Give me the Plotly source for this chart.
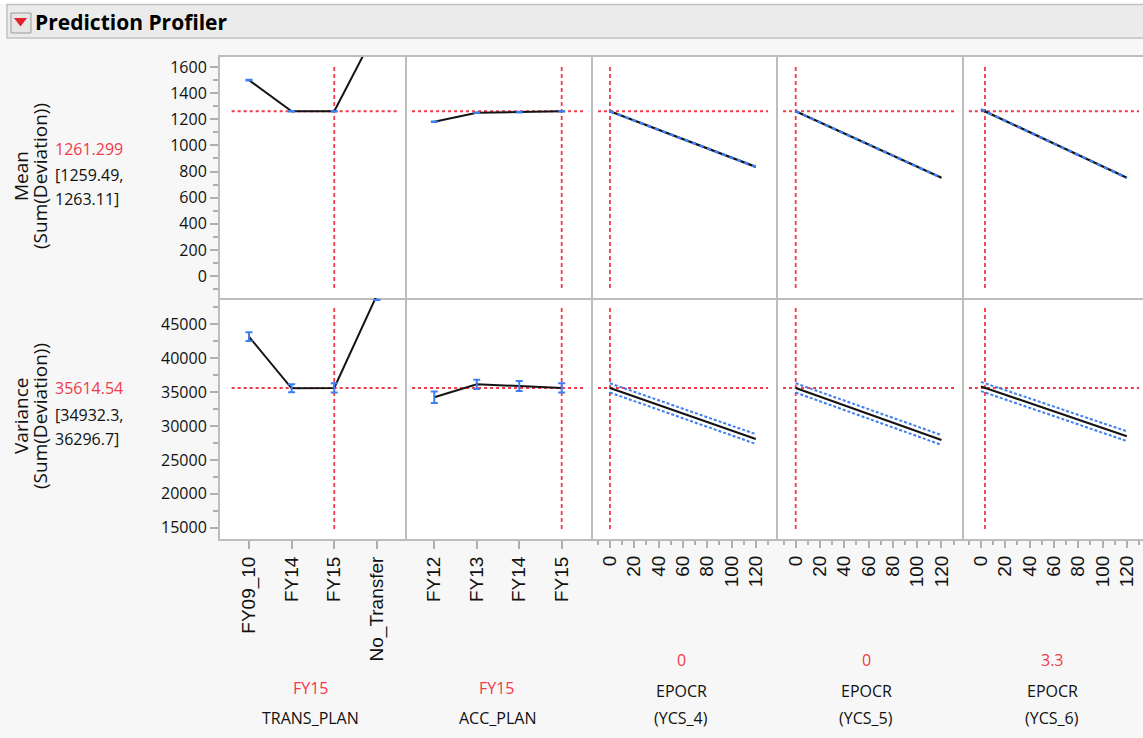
import plotly.graph_objects as go

W, H = 1143, 738

# ---------------- data ----------------
trans_cats = ["FY09_10", "FY14", "FY15", "No_Transfer"]
mean_trans = [1500, 1262, 1261.299, 1890]
mean_trans_err = [2, 2, 1.81, 2]
var_trans = [43170, 35560, 35614.54, 49300]
var_trans_err = [650, 600, 682, 700]

acc_cats = ["FY12", "FY13", "FY14", "FY15"]
mean_acc = [1181, 1250, 1255, 1261.299]
mean_acc_err = [2, 2, 2, 1.81]
var_acc = [34230, 36150, 35900, 35614.54]
var_acc_err = [850, 690, 740, 682]

epocr_x = [0, 120]
mean_ycs4 = [1261.299, 836]
mean_ycs5 = [1261.299, 752]
mean_ycs6 = [1276, 752]
var_ycs4 = [35614.54, 28080]
var_ycs5 = [35614.54, 27940]
var_ycs6 = [35820, 28500]
var_ci_half = [682, 720]
mean_ci_half = [1.81, 2.5]

current_mean = 1261.299
current_var = 35614.54
current_x = [2, 3, 0, 0, 3.3]

y_mean_ticks = [0, 200, 400, 600, 800, 1000, 1200, 1400, 1600]
y_var_ticks = [15000, 20000, 25000, 30000, 35000, 40000, 45000]
epocr_ticks = [0, 20, 40, 60, 80, 100, 120]

factor_values = ["FY15", "FY15", "0", "0", "3.3"]
factor_names = [["TRANS_PLAN"], ["ACC_PLAN"], ["EPOCR", "(YCS_4)"], ["EPOCR", "(YCS_5)"], ["EPOCR", "(YCS_6)"]]

# ---------------- style ----------------
BLACK = "#141414"
BLUE = "#3d7ef0"
RED = "#f2394a"
BORDER = "#bdbdbd"
TICKC = "#b0b0b0"
FONT = "Open Sans"
XFONT = "Liberation Sans"

col_px = [(220, 405), (405, 591), (591, 776), (776, 962), (962, 1143)]
row_px = [(57, 298), (298, 539)]
x_ranges = [[-0.68, 3.66], [-0.69, 3.69], [-15.6, 136.6], [-16.2, 136.9], [-15.6, 133.3]]
y_ranges = [[-168, 1677], [13333, 48880]]


def px(x):
    return x / W


def py(y):
    return 1 - y / H


fig = go.Figure()
layout = {}
shapes = []
annotations = []

mean_cont = [mean_ycs4, mean_ycs5, mean_ycs6]
var_cont = [var_ycs4, var_ycs5, var_ycs6]

for r in range(2):
    for c in range(5):
        idx = r * 5 + c + 1
        xn = "x" if idx == 1 else f"x{idx}"
        yn = "y" if idx == 1 else f"y{idx}"
        xk = "xaxis" if idx == 1 else f"xaxis{idx}"
        yk = "yaxis" if idx == 1 else f"yaxis{idx}"

        xa = dict(domain=[px(col_px[c][0]), px(col_px[c][1])], range=x_ranges[c], anchor=yn,
                  showline=True, mirror=(r == 0), linecolor=BORDER, linewidth=2,
                  showgrid=False, zeroline=False, fixedrange=True)
        ya = dict(domain=[py(row_px[r][1]), py(row_px[r][0])], range=y_ranges[r], anchor=xn,
                  showline=True, mirror=(c == 0), side=("left" if c == 0 else "right"),
                  linecolor=BORDER, linewidth=2,
                  showgrid=False, zeroline=False, fixedrange=True)
        if r == 1:
            if c < 2:
                cats = trans_cats if c == 0 else acc_cats
                xa.update(tickmode="array", tickvals=list(range(4)), ticktext=cats,
                          ticks="outside", ticklen=8, tickwidth=2, tickcolor=TICKC,
                          tickangle=-90, tickfont=dict(family=XFONT, size=19, color="#111"))
            else:
                xa.update(tickmode="array", tickvals=epocr_ticks, ticktext=[str(t) for t in epocr_ticks],
                          ticks="outside", ticklen=7, tickwidth=2, tickcolor=TICKC,
                          tickangle=-90, tickfont=dict(family=XFONT, size=19, color="#111"),
                          minor=dict(dtick=10, tick0=0, ticks="outside", ticklen=4,
                                     tickwidth=1.5, tickcolor=TICKC, showgrid=False))
        else:
            xa.update(showticklabels=False, ticks="")
        if c == 0:
            yt = y_mean_ticks if r == 0 else y_var_ticks
            ya.update(tickmode="array", tickvals=yt, ticktext=[str(t) for t in yt],
                      ticks="outside", ticklen=8, tickwidth=2, tickcolor=TICKC,
                      tickfont=dict(family=FONT, size=16, color="#111"),
                      minor=dict(dtick=(100 if r == 0 else 2500), tick0=0, ticks="outside",
                                 ticklen=5, tickwidth=1.5, tickcolor=TICKC, showgrid=False))
        else:
            ya.update(showticklabels=False, ticks="")
        layout[xk] = xa
        layout[yk] = ya

        # traces
        if c < 2:
            if r == 0:
                yv = mean_trans if c == 0 else mean_acc
                ye = mean_trans_err if c == 0 else mean_acc_err
            else:
                yv = var_trans if c == 0 else var_acc
                ye = var_trans_err if c == 0 else var_acc_err
            fig.add_trace(go.Scatter(x=list(range(4)), y=yv, mode="lines",
                                     line=dict(color=BLACK, width=2), xaxis=xn, yaxis=yn,
                                     showlegend=False, hoverinfo="skip"))
            fig.add_trace(go.Scatter(x=list(range(4)), y=yv, mode="markers",
                                     marker=dict(size=2, color="rgba(0,0,0,0)"),
                                     error_y=dict(type="data", array=ye, color=BLUE,
                                                  thickness=2, width=3.5),
                                     xaxis=xn, yaxis=yn, showlegend=False, hoverinfo="skip"))
        else:
            k = c - 2
            if r == 0:
                yv = mean_cont[k]
                half = mean_ci_half
                fig.add_trace(go.Scatter(x=epocr_x, y=yv, mode="lines",
                                         line=dict(color=BLACK, width=2.2), xaxis=xn, yaxis=yn,
                                         showlegend=False, hoverinfo="skip"))
                for s in (-1, 1):
                    fig.add_trace(go.Scatter(x=epocr_x, y=[v + s * h for v, h in zip(yv, half)],
                                             mode="lines",
                                             line=dict(color=BLUE, width=2, dash="4px,4px"),
                                             xaxis=xn, yaxis=yn, showlegend=False, hoverinfo="skip"))
            else:
                yv = var_cont[k]
                half = var_ci_half
                for s in (-1, 1):
                    fig.add_trace(go.Scatter(x=epocr_x, y=[v + s * h for v, h in zip(yv, half)],
                                             mode="lines",
                                             line=dict(color=BLUE, width=2, dash="3px,2px"),
                                             xaxis=xn, yaxis=yn, showlegend=False, hoverinfo="skip"))
                fig.add_trace(go.Scatter(x=epocr_x, y=yv, mode="lines",
                                         line=dict(color=BLACK, width=2.2), xaxis=xn, yaxis=yn,
                                         showlegend=False, hoverinfo="skip"))

        # reference lines
        cur_y = current_mean if r == 0 else current_var
        x0 = 0.063 if c == 0 else 0.038
        x1 = 0.978 if c == 4 else 0.957
        shapes.append(dict(type="line", xref=f"{xn} domain", yref=yn, x0=x0, x1=x1,
                           y0=cur_y, y1=cur_y, line=dict(color=RED, width=2, dash="3px,3px"),
                           layer="below"))
        shapes.append(dict(type="line", xref=xn, yref=f"{yn} domain", x0=current_x[c], x1=current_x[c],
                           y0=0.041, y1=0.958, line=dict(color=RED, width=1.8, dash="4px,3px"),
                           layer="below"))

# ---------------- header ----------------
shapes.insert(0, dict(type="rect", xref="paper", yref="paper", x0=0, x1=1, y0=py(4), y1=1,
                      fillcolor="white", line=dict(width=0), layer="below"))
shapes.insert(1, dict(type="rect", xref="paper", yref="paper", x0=px(7), x1=1.01, y0=py(38), y1=py(4.5),
                      fillcolor="#ebebeb", line=dict(color="#c2c2c2", width=1.5), layer="below"))
shapes.append(dict(type="rect", xref="paper", yref="paper", x0=px(11), x1=px(31), y0=py(33), y1=py(13),
                   fillcolor="#e6e6e6", line=dict(color="#9a9a9a", width=1)))
shapes.append(dict(type="path", xref="paper", yref="paper",
                   path=f"M {px(14)},{py(18)} L {px(27)},{py(18)} L {px(20.5)},{py(26.5)} Z",
                   fillcolor="#e3202b", line=dict(width=0)))
annotations.append(dict(text="<b>Prediction Profiler</b>", x=px(33), y=py(22), xref="paper", yref="paper",
                        xanchor="left", yanchor="middle", showarrow=False,
                        font=dict(family=FONT, size=21, color="#000")))

# ---------------- left labels ----------------
row_label_lines = [["Mean", "(Sum(Deviation))"], ["Variance", "(Sum(Deviation))"]]
row_centers = [176, 416]
label_x = [21, 40]
for r in range(2):
    for i, t in enumerate(row_label_lines[r]):
        annotations.append(dict(text=t, x=px(label_x[i]), y=py(row_centers[r]), xref="paper", yref="paper",
                                xanchor="center", yanchor="middle", textangle=-90, showarrow=False,
                                font=dict(family=FONT, size=19, color="#111")))

value_lines = [["1261.299", "[1259.49,", "1263.11]"], ["35614.54", "[34932.3,", "36296.7]"]]
value_y = [[149, 175, 199], [388, 415, 439]]
for r in range(2):
    for i, t in enumerate(value_lines[r]):
        annotations.append(dict(text=t, x=px(53), y=py(value_y[r][i]), xref="paper", yref="paper",
                                xanchor="left", yanchor="middle", showarrow=False,
                                font=dict(family=FONT, size=16, color=(RED if i == 0 else "#111"))))

# ---------------- bottom labels ----------------
label_cx = [311, 497, 681, 866, 1052]
for c in range(5):
    if c < 2:
        ys = [688, 718]
    else:
        ys = [660, 691, 718]
    texts = [factor_values[c]] + factor_names[c]
    for i, t in enumerate(texts):
        annotations.append(dict(text=t, x=px(label_cx[c]), y=py(ys[i]), xref="paper", yref="paper",
                                xanchor="center", yanchor="middle", showarrow=False,
                                font=dict(family=FONT, size=16, color=(RED if i == 0 else "#111"))))

fig.update_layout(**layout)
fig.update_layout(width=W, height=H, margin=dict(l=0, r=0, t=0, b=0),
                  paper_bgcolor="#f7f7f7", plot_bgcolor="white",
                  shapes=shapes, annotations=annotations, showlegend=False,
                  font=dict(family=FONT, size=16, color="#111"))

fig.write_html("out.html", config={"displayModeBar": False},
               post_script="document.body.style.margin='0';document.body.style.overflow='hidden';")
